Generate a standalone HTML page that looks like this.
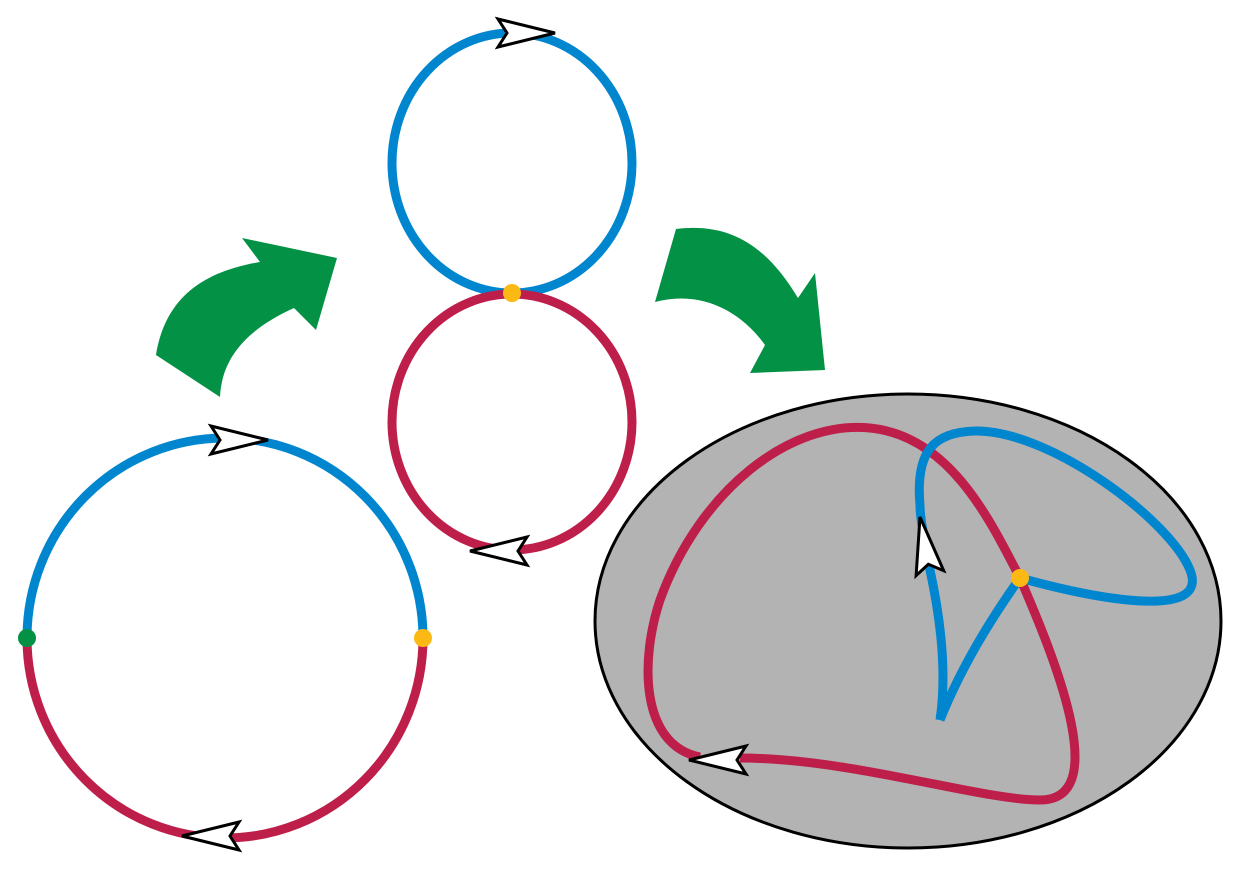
<!DOCTYPE html>
<html><head><meta charset="utf-8"><style>html,body{margin:0;padding:0;background:#fff}svg{display:block}</style></head>
<body>
<svg width="1260" height="891" viewBox="0 0 1260 891" xmlns="http://www.w3.org/2000/svg">
<defs>
<polygon id="ar" points="0,0 -57,-14 -48,0 -57,14" fill="#fff" stroke="#000" stroke-width="3" stroke-linejoin="miter"/>
</defs>
<!-- green arrows -->
<path d="M156,355 C165,300 200,272 260,262 L242,238 L337,258 L316,330 L294,308 C250,328 222,355 220,397 Z" fill="#039245"/>
<path d="M655,302 C700,290 740,310 765,345 L750,373 L825,370 L815,273 L798,298 C768,248 732,222 676,229 Z" fill="#039245"/>
<!-- left circle -->
<path d="M27,638 A198,200 0 0 1 423,638" fill="none" stroke="#0085cf" stroke-width="9"/>
<path d="M423,638 A198,200 0 0 1 27,638" fill="none" stroke="#be1e4a" stroke-width="9"/>
<use href="#ar" transform="translate(268,440)"/>
<use href="#ar" transform="translate(182,836) rotate(180)"/>
<circle cx="27" cy="638" r="9" fill="#039245"/>
<circle cx="423" cy="638" r="9" fill="#fdb913"/>
<!-- middle -->
<ellipse cx="512" cy="163" rx="120" ry="130" fill="none" stroke="#0085cf" stroke-width="9"/>
<ellipse cx="512" cy="422" rx="120" ry="128" fill="none" stroke="#be1e4a" stroke-width="9"/>
<use href="#ar" transform="translate(555,33)"/>
<use href="#ar" transform="translate(470,551) rotate(180)"/>
<circle cx="512" cy="293" r="9" fill="#fdb913"/>
<!-- right -->
<ellipse cx="908" cy="621" rx="313" ry="227" fill="#b3b3b3" stroke="#000" stroke-width="3"/>
<path d="M700,757 C640,745 640,660 660,600 C700,490 790,420 870,428 C950,436 990,520 1020,578 C1060,670 1110,800 1040,800 C980,800 850,758 740,758" fill="none" stroke="#be1e4a" stroke-width="9"/>
<path d="M940,720 C946,680 943,630 930,570 C925,540 920,520 920,505 C915,450 935,432 975,431 C1050,430 1170,520 1190,570 C1210,620 1100,600 1020,578 C990,620 960,670 940,720" fill="none" stroke="#0085cf" stroke-width="9"/>
<use href="#ar" transform="translate(689,760) rotate(180)"/>
<use href="#ar" transform="translate(920,517) rotate(-100)"/>
<circle cx="1020" cy="578" r="9" fill="#fdb913"/>
</svg>
</body></html>
